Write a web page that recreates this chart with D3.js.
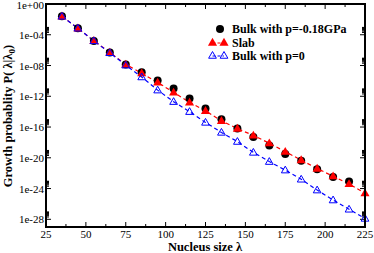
<!DOCTYPE html>
<html>
<head>
<meta charset="utf-8">
<script src="https://cdn.jsdelivr.net/npm/d3@7"></script>
<style>
  body { margin: 0; background: #fff; }
  svg text { font-family: "Times New Roman", Times, "Liberation Serif", "DejaVu Serif", serif; }
</style>
</head>
<body>
<svg id="chart" width="374" height="253"></svg>
<script>
// nucleus sizes
const sizes = [35, 45, 55, 65, 75, 85, 95, 105, 115, 125, 135, 145, 155, 165, 175, 185, 195, 205, 215, 225];

// growth probability
const bulkNeg = [2.5e-2, 7e-4, 1.6e-5, 5e-7, 1.4e-8, 1.3e-9, 1.1e-10, 1e-11, 5e-13, 2.5e-14,
  1e-15, 6.3e-17, 5e-18, 4e-19, 3.2e-20, 4e-21, 3.2e-22, 3.2e-23, 8e-24];
const slab = [2.5e-2, 7e-4, 1.6e-5, 5e-7, 1.4e-8, 1e-9, 6.3e-11, 3.2e-12, 1.6e-13, 1.3e-14,
  6.3e-16, 6.3e-17, 8e-18, 8e-19, 6.3e-20, 5e-21, 4e-22, 4e-23, 4e-24, 2.5e-25];
const bulkZero = [2.5e-2, 7e-4, 1.6e-5, 4.5e-7, 1.1e-8, 3.2e-10, 6.3e-12, 2e-13, 1e-14, 4e-16,
  2e-17, 1.3e-18, 5e-20, 3.2e-21, 2.5e-22, 1.6e-23, 6.3e-25, 3.2e-26, 2e-27, 1.3e-28];

const xTicks = [25, 50, 75, 100, 125, 150, 175, 200, 225];
const yTickExp = [0, -4, -8, -12, -16, -20, -24, -28];
const yTickLabels = ['1e+00', '1e-04', '1e-08', '1e-12', '1e-16', '1e-20', '1e-24', '1e-28'];

const legendNames = ['Bulk with p=-0.18GPa', 'Slab', 'Bulk with p=0'];

const svg = d3.select('#chart');
const pLeft = 46, pRight = 365, pTop = 4, pBottom = 227;

const x = d3.scaleLinear().domain([25, 225]).range([pLeft, pRight]);
const y = d3.scaleLog().domain([1e-29, 1]).range([pBottom, pTop]);

const g = svg.append('g');

function tick(x1, y1, x2, y2) {
  g.append('line').attr('x1', x1).attr('y1', y1).attr('x2', x2).attr('y2', y2).attr('stroke', '#000');
}

// ticks (inward, all four sides)
const minorX = d3.range(37.5, 225, 25);
xTicks.forEach(t => {
  tick(x(t), pBottom, x(t), pBottom - 5);
  tick(x(t), pTop, x(t), pTop + 5);
});
minorX.forEach(t => {
  tick(x(t), pBottom, x(t), pBottom - 3);
  tick(x(t), pTop, x(t), pTop + 3);
});
yTickExp.forEach(e => {
  const v = Math.pow(10, e);
  tick(pLeft, y(v), pLeft + 5, y(v));
  tick(pRight, y(v), pRight - 5, y(v));
  if (e < 0) {
    d3.range(2, 10).forEach(k => {
      const mv = k * v;
      tick(pLeft, y(mv), pLeft + 3, y(mv));
      tick(pRight, y(mv), pRight - 3, y(mv));
    });
  }
});

// tick labels
g.selectAll('.xl').data(xTicks).join('text')
  .attr('x', d => x(d)).attr('y', pBottom + 11)
  .attr('text-anchor', 'middle').attr('font-size', 11).text(d => d);
g.selectAll('.yl').data(yTickExp).join('text')
  .attr('x', pLeft - 2).attr('y', d => Math.max(9, y(Math.pow(10, d)) + 4))
  .attr('text-anchor', 'end').attr('font-size', 11).text((d, i) => yTickLabels[i]);

// series lines
const line = d3.line().x(d => x(d[0])).y(d => y(d[1]));
g.append('path').datum(sizes.map((s, i) => [s, slab[i]]))
  .attr('d', line).attr('fill', 'none').attr('stroke', '#ff0000')
  .attr('stroke-width', 1.2).attr('stroke-dasharray', '4,3');
g.append('path').datum(sizes.map((s, i) => [s, bulkZero[i]]))
  .attr('d', line).attr('fill', 'none').attr('stroke', '#0000ff')
  .attr('stroke-width', 1.2).attr('stroke-dasharray', '4,3');

// markers
const triRed = d3.symbol().type(d3.symbolTriangle).size(36);
const triBlue = d3.symbol().type(d3.symbolTriangle).size(26);
g.selectAll('.blk').data(bulkNeg).join('circle')
  .attr('cx', (d, i) => x(sizes[i])).attr('cy', d => y(d)).attr('r', 4).attr('fill', '#000');
g.selectAll('.red').data(slab).join('path')
  .attr('d', triRed).attr('transform', (d, i) => `translate(${x(sizes[i])},${y(d) + 0.5})`)
  .attr('fill', '#ff0000');
g.selectAll('.blu').data(bulkZero).join('path')
  .attr('d', triBlue).attr('transform', (d, i) => `translate(${x(sizes[i])},${y(d) + 0.5})`)
  .attr('fill', 'none').attr('stroke', '#0000ff').attr('stroke-width', 1);

// frame
g.append('rect').attr('x', pLeft).attr('y', pTop).attr('width', pRight - pLeft).attr('height', pBottom - pTop)
  .attr('fill', 'none').attr('stroke', '#000').attr('stroke-width', 2);

// legend
const lg = svg.append('g').attr('font-size', 12).attr('font-weight', 'bold');
lg.append('circle').attr('cx', 220).attr('cy', 29).attr('r', 4).attr('fill', '#000');
lg.append('line').attr('x1', 212.5).attr('x2', 224).attr('y1', 43).attr('y2', 43).attr('stroke', '#ff0000').attr('stroke-dasharray', '3,2');
lg.append('line').attr('x1', 212.5).attr('x2', 224).attr('y1', 56).attr('y2', 56).attr('stroke', '#0000ff').attr('stroke-dasharray', '3,2');
[212.5, 224].forEach(px => {
  lg.append('path').attr('d', triRed).attr('transform', `translate(${px},43)`).attr('fill', '#ff0000');
  lg.append('path').attr('d', triBlue).attr('transform', `translate(${px},56)`)
    .attr('fill', 'none').attr('stroke', '#0000ff');
});
legendNames.forEach((n, i) => {
  lg.append('text').attr('x', 232).attr('y', [33, 47, 60][i]).text(n);
});

// axis titles
svg.append('text').attr('x', 205).attr('y', 251).attr('text-anchor', 'middle')
  .attr('font-size', 12.5).attr('font-weight', 'bold').text('Nucleus size λ');
const yt = svg.append('text').attr('transform', 'translate(12,116) rotate(-90)')
  .attr('text-anchor', 'middle').attr('font-size', 12.5).attr('font-weight', 'bold');
yt.append('tspan').text('Growth probablity P( λ|λ');
yt.append('tspan').attr('font-size', 9).attr('dy', 3).text('0');
yt.append('tspan').attr('dy', -3).text(')');
</script>
</body>
</html>
